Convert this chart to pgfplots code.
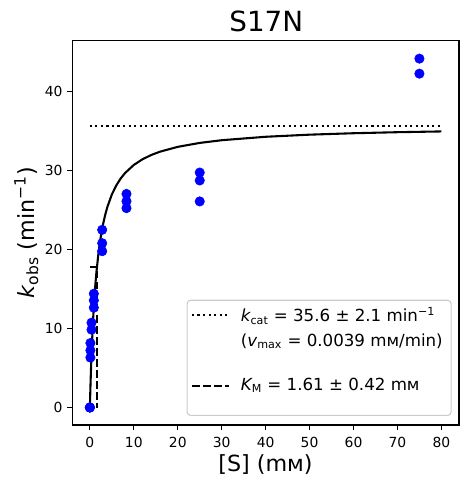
\documentclass[border=0pt]{standalone}
\usepackage{pgfplots}
\pgfplotsset{compat=1.18}
\usepackage{fontspec}
\setmainfont{DejaVu Sans}
\newcommand\st[2]{\rule[-#2]{0pt}{\dimexpr#1+#2\relax}}
\begin{document}
\begin{tikzpicture}
\useasboundingbox (0,0) rectangle (337.68pt,348.48pt);
\begin{axis}[
  at={(52.06pt,42.48pt)}, anchor=south west,
  scale only axis, width=278.4pt, height=277.0pt,
  xmin=-4, xmax=84, ymin=-2.21, ymax=46.42,
  xtick={0,10,...,80}, ytick={0,10,...,40},
  tick pos=left, tick align=outside,
  major tick length=3.5pt,
  every tick/.style={black, line width=0.8pt},
  axis line style={line width=0.8pt},
  /pgf/number format/assume math mode=true,
  ticklabel style={font=\fontsize{10}{12}\selectfont},
  xticklabel style={yshift=-2pt},
]
\addplot[only marks, mark=*, mark size=3.4pt, color=blue] coordinates {
(0,0) (0,0) (0,0)
(0.12,8.15) (0.12,7.23) (0.12,6.31)
(0.37,10.72) (0.37,9.84)
(0.9,14.38) (0.9,13.54) (0.9,12.62)
(2.8,22.46) (2.8,20.77) (2.8,19.76)
(8.33,27.0) (8.33,26.07) (8.33,25.2)
(25,29.7) (25,28.7) (25,26.05)
(75,44.1) (75,42.2)
};
\addplot[black, line width=1.5pt] coordinates {
(0,0) (0.05,1.072) (0.1,2.082) (0.2,3.934) (0.3,5.592) (0.4,7.085)
(0.6,9.665) (0.8,11.817) (1.0,13.640) (1.25,15.559) (1.5,17.170)
(2,19.723) (2.5,21.655) (3,23.167) (3.5,24.384) (4,25.383)
(5,26.929) (6,28.068) (7,28.943) (8,29.636) (10,30.663)
(12,31.389) (14,31.928) (16,32.345) (20,32.948) (25,33.446)
(30,33.787) (40,34.222) (50,34.489) (60,34.670) (70,34.800) (80,34.898)
};
\addplot[black, line width=1.5pt, dash pattern=on 1.5pt off 2.475pt]
  coordinates {(0,35.6) (80,35.6)};
\addplot[black, line width=1.5pt, dash pattern=on 5.55pt off 2.4pt]
  coordinates {(0,17.8) (1.61,17.8) (1.61,0)};
\node[anchor=south east, draw=black!20, line width=0.8pt, fill=white,
  rounded corners=2.5pt, inner sep=0pt, font=\fontsize{12}{14}\selectfont]
  at (rel axis cs:0.981,0.0234) {%
  \renewcommand\arraystretch{0}%
  \begin{tabular}{@{\hspace{2.7pt}}l@{\hspace{7.9pt}}l@{\hspace{6pt}}}
  \tikz[baseline=0pt]\draw[black, line width=1.5pt, dash pattern=on 1.5pt off 2.475pt] (0pt,5pt) -- (26.6pt,5pt);
   & \st{15.6pt}{0pt}{\itshape k}\textsubscript{cat} = 35.6 ± 2.1 min\textsuperscript{−1}\\
   & \st{15.5pt}{0pt}({\itshape v}\textsubscript{max} = 0.0039 mᴍ/min)\\
  \tikz[baseline=0pt]\draw[black, line width=1.5pt, dash pattern=on 5.55pt off 2.4pt] (0pt,3.1pt) -- (26.6pt,3.1pt);
   & \st{30pt}{18pt}{\itshape K}\textsubscript{M} = 1.61 ± 0.42 mᴍ
  \end{tabular}};
\end{axis}
\node[anchor=base, font=\fontsize{20}{24}\selectfont] at (191.7pt,325.66pt) {S17N};
\node[anchor=base, font=\fontsize{16}{19}\selectfont] at (191.2pt,9.36pt) {[S] (mᴍ)};
\node[anchor=base, rotate=90, font=\fontsize{16}{19}\selectfont] at (24.8pt,180.9pt) {{\itshape k}\textsubscript{obs} (min\textsuperscript{−1})};
\end{tikzpicture}
\end{document}
